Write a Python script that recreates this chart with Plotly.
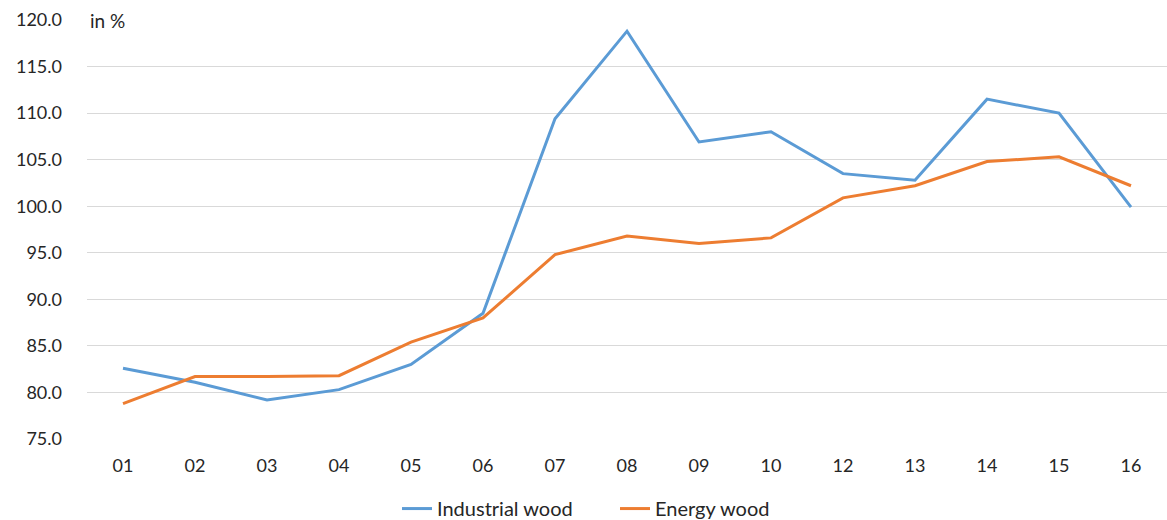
import plotly.graph_objects as go

years = ["01", "02", "03", "04", "05", "06", "07", "08", "09", "10", "12", "13", "14", "15", "16"]
industrial_wood = [82.6, 81.1, 79.2, 80.3, 83.0, 88.5, 109.4, 118.8, 106.9, 108.0, 103.5, 102.8, 111.5, 110.0, 99.9]
energy_wood = [78.8, 81.7, 81.7, 81.8, 85.4, 88.0, 94.8, 96.8, 96.0, 96.6, 100.9, 102.2, 104.8, 105.3, 102.2]
y_ticks = [75, 80, 85, 90, 95, 100, 105, 110, 115, 120]

FONT = "Lato, 'Open Sans', sans-serif"

fig = go.Figure()
fig.add_trace(go.Scatter(x=years, y=industrial_wood, mode="lines", name="Industrial wood",
                         line=dict(color="#5B9BD5", width=3)))
fig.add_trace(go.Scatter(x=years, y=energy_wood, mode="lines", name="Energy wood",
                         line=dict(color="#ED7D31", width=3)))

fig.update_layout(
    width=1167, height=520,
    margin=dict(l=87, r=0, t=20, b=81),
    paper_bgcolor="white", plot_bgcolor="white",
    font=dict(family=FONT, size=18, color="#262626"),
    showlegend=True,
    legend=dict(orientation="h", x=0.527, xanchor="center", xref="container",
                y=0.022, yanchor="middle", yref="container",
                font=dict(size=20), tracegroupgap=0, entrywidth=173),
    xaxis=dict(type="category", range=[-0.5, 14.5], showgrid=False, zeroline=False,
               showline=False, ticks="", ticklabelstandoff=14, tickfont=dict(size=18)),
    yaxis=dict(range=[75, 120], tickvals=y_ticks, tickformat=".1f", showgrid=True,
               gridcolor="#D9D9D9", gridwidth=1, zeroline=False, showline=False,
               ticks="", ticklabelstandoff=24, tickfont=dict(size=18)),
    annotations=[dict(text="in %", xref="paper", yref="y", x=0, y=120, xanchor="left",
                      yanchor="middle", showarrow=False, bgcolor="white",
                      font=dict(family=FONT, size=19, color="#262626"), borderpad=2)],
)

fig.write_html("out.html")
